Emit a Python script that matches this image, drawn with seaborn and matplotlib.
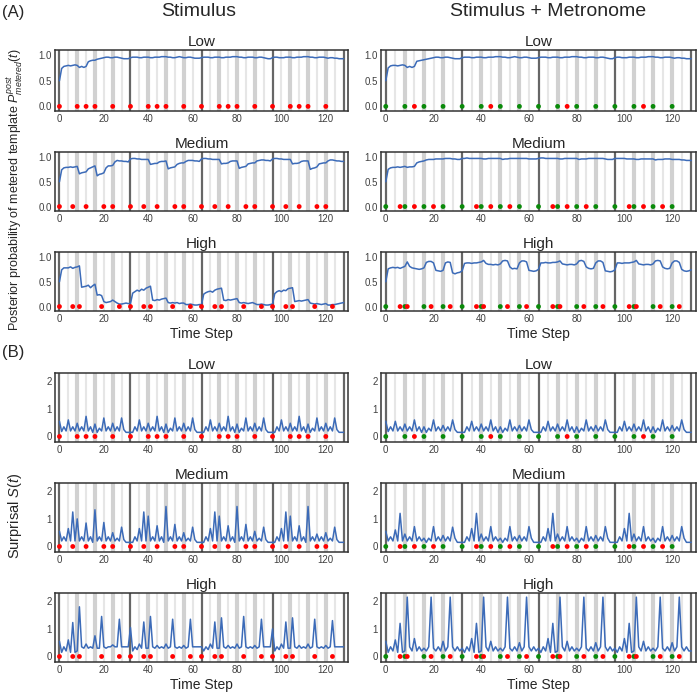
import numpy as np
import matplotlib.pyplot as plt
import seaborn as sns

sns.set_theme(style="white")
plt.rcParams['font.family'] = ['Liberation Sans', 'DejaVu Sans']
plt.rcParams['mathtext.fontset'] = 'custom'
plt.rcParams['mathtext.rm'] = 'Liberation Sans'
plt.rcParams['mathtext.it'] = 'Liberation Sans:italic'

# time axis and event positions
time_step = np.arange(129)
metronome_beats = [0, 8, 16, 24, 32, 40, 48, 56, 64, 72, 80, 88, 96, 104, 112, 120]
onsets_low = [0, 8, 12, 16, 24, 32, 40, 44, 48, 56, 64, 72, 76, 80, 88, 96, 104, 108, 112, 120]
onsets_medium = [0, 6, 12, 20, 24, 32, 38, 44, 52, 56, 64, 70, 76, 84, 88, 96, 102, 108, 116, 120]
onsets_high = [0, 6, 9, 19, 27, 32, 38, 41, 51, 59, 64, 70, 73, 83, 91, 96, 102, 105, 115, 123]

# (A) posterior probability of the metered template
post_stim_low = [
    0.50, 0.74, 0.78, 0.79, 0.80, 0.79, 0.80, 0.81, 0.80, 0.76, 0.78, 0.76, 0.78, 0.87, 0.89, 0.90,
    0.90, 0.92, 0.93, 0.94, 0.95, 0.96, 0.96, 0.95, 0.95, 0.96, 0.96, 0.95, 0.94, 0.93, 0.93, 0.93,
    0.95, 0.96, 0.96, 0.96, 0.95, 0.95, 0.96, 0.96, 0.96, 0.95, 0.95, 0.96, 0.96, 0.96, 0.97, 0.97,
    0.97, 0.96, 0.96, 0.95, 0.95, 0.96, 0.97, 0.96, 0.95, 0.95, 0.96, 0.96, 0.95, 0.94, 0.94, 0.94,
    0.95, 0.96, 0.96, 0.96, 0.95, 0.95, 0.96, 0.96, 0.96, 0.95, 0.95, 0.96, 0.96, 0.96, 0.97, 0.97,
    0.97, 0.96, 0.96, 0.95, 0.95, 0.96, 0.96, 0.96, 0.95, 0.95, 0.96, 0.96, 0.95, 0.94, 0.93, 0.93,
    0.95, 0.96, 0.96, 0.95, 0.95, 0.95, 0.96, 0.96, 0.96, 0.95, 0.95, 0.96, 0.96, 0.96, 0.97, 0.97,
    0.97, 0.96, 0.96, 0.95, 0.95, 0.96, 0.96, 0.96, 0.95, 0.94, 0.95, 0.95, 0.94, 0.94, 0.93, 0.93,
    0.93]
post_stim_medium = [
    0.50, 0.74, 0.78, 0.79, 0.79, 0.80, 0.79, 0.80, 0.81, 0.66, 0.68, 0.69, 0.70, 0.76, 0.78, 0.80,
    0.82, 0.62, 0.65, 0.66, 0.68, 0.78, 0.82, 0.82, 0.83, 0.90, 0.93, 0.92, 0.92, 0.91, 0.91, 0.90,
    0.96, 0.97, 0.97, 0.96, 0.96, 0.95, 0.95, 0.95, 0.95, 0.85, 0.86, 0.87, 0.87, 0.90, 0.91, 0.91,
    0.92, 0.76, 0.78, 0.79, 0.80, 0.85, 0.87, 0.88, 0.88, 0.91, 0.93, 0.93, 0.93, 0.92, 0.92, 0.91,
    0.96, 0.97, 0.97, 0.96, 0.96, 0.95, 0.95, 0.95, 0.95, 0.86, 0.87, 0.87, 0.88, 0.91, 0.92, 0.92,
    0.92, 0.77, 0.79, 0.80, 0.81, 0.86, 0.87, 0.88, 0.88, 0.92, 0.93, 0.94, 0.94, 0.93, 0.93, 0.92,
    0.96, 0.97, 0.97, 0.96, 0.96, 0.95, 0.95, 0.95, 0.95, 0.86, 0.87, 0.87, 0.88, 0.91, 0.92, 0.92,
    0.92, 0.75, 0.77, 0.78, 0.80, 0.86, 0.87, 0.88, 0.88, 0.92, 0.94, 0.94, 0.93, 0.92, 0.92, 0.91,
    0.91]
post_stim_high = [
    0.50, 0.74, 0.78, 0.78, 0.78, 0.80, 0.77, 0.79, 0.80, 0.82, 0.39, 0.40, 0.41, 0.43, 0.38, 0.42,
    0.45, 0.23, 0.24, 0.22, 0.10, 0.08, 0.09, 0.10, 0.13, 0.10, 0.07, 0.05, 0.05, 0.06, 0.07, 0.06,
    0.06, 0.27, 0.30, 0.33, 0.31, 0.35, 0.33, 0.37, 0.39, 0.41, 0.13, 0.12, 0.14, 0.13, 0.15, 0.16,
    0.17, 0.08, 0.07, 0.08, 0.07, 0.08, 0.06, 0.07, 0.07, 0.04, 0.04, 0.05, 0.04, 0.03, 0.03, 0.04,
    0.04, 0.25, 0.28, 0.30, 0.31, 0.29, 0.33, 0.35, 0.36, 0.37, 0.13, 0.12, 0.14, 0.13, 0.14, 0.15,
    0.16, 0.08, 0.07, 0.08, 0.07, 0.06, 0.07, 0.08, 0.06, 0.04, 0.04, 0.05, 0.04, 0.03, 0.03, 0.04,
    0.05, 0.26, 0.30, 0.32, 0.30, 0.33, 0.32, 0.36, 0.37, 0.38, 0.10, 0.11, 0.12, 0.11, 0.12, 0.13,
    0.14, 0.07, 0.06, 0.05, 0.06, 0.05, 0.04, 0.05, 0.06, 0.03, 0.03, 0.04, 0.04, 0.05, 0.06, 0.07,
    0.08]
post_metro_low = [
    0.50, 0.75, 0.79, 0.80, 0.80, 0.79, 0.80, 0.81, 0.80, 0.76, 0.78, 0.76, 0.78, 0.88, 0.89, 0.90,
    0.91, 0.92, 0.93, 0.94, 0.95, 0.96, 0.96, 0.95, 0.95, 0.96, 0.96, 0.95, 0.94, 0.93, 0.93, 0.93,
    0.95, 0.96, 0.96, 0.96, 0.95, 0.95, 0.96, 0.96, 0.96, 0.95, 0.95, 0.96, 0.96, 0.96, 0.97, 0.97,
    0.97, 0.96, 0.96, 0.95, 0.95, 0.96, 0.97, 0.96, 0.95, 0.95, 0.96, 0.96, 0.95, 0.94, 0.94, 0.94,
    0.95, 0.96, 0.96, 0.96, 0.95, 0.95, 0.96, 0.96, 0.96, 0.95, 0.95, 0.96, 0.96, 0.96, 0.97, 0.97,
    0.97, 0.96, 0.96, 0.95, 0.95, 0.96, 0.96, 0.96, 0.95, 0.95, 0.96, 0.96, 0.95, 0.94, 0.93, 0.93,
    0.95, 0.96, 0.96, 0.95, 0.95, 0.95, 0.96, 0.96, 0.96, 0.95, 0.95, 0.96, 0.96, 0.96, 0.97, 0.97,
    0.97, 0.96, 0.96, 0.95, 0.95, 0.96, 0.96, 0.96, 0.95, 0.94, 0.95, 0.95, 0.94, 0.94, 0.93, 0.93,
    0.93]
post_metro_medium = [
    0.50, 0.75, 0.78, 0.79, 0.79, 0.80, 0.79, 0.80, 0.81, 0.79, 0.80, 0.80, 0.81, 0.88, 0.90, 0.91,
    0.92, 0.94, 0.95, 0.95, 0.95, 0.96, 0.96, 0.96, 0.96, 0.97, 0.97, 0.97, 0.96, 0.96, 0.95, 0.95,
    0.97, 0.97, 0.98, 0.97, 0.97, 0.97, 0.97, 0.97, 0.97, 0.96, 0.96, 0.97, 0.97, 0.97, 0.97, 0.97,
    0.97, 0.95, 0.96, 0.96, 0.97, 0.97, 0.97, 0.97, 0.97, 0.97, 0.97, 0.97, 0.96, 0.96, 0.96, 0.96,
    0.97, 0.98, 0.98, 0.97, 0.97, 0.97, 0.97, 0.97, 0.97, 0.96, 0.96, 0.97, 0.97, 0.97, 0.97, 0.97,
    0.97, 0.95, 0.96, 0.96, 0.96, 0.97, 0.97, 0.97, 0.97, 0.97, 0.97, 0.97, 0.96, 0.95, 0.95, 0.95,
    0.97, 0.97, 0.97, 0.97, 0.97, 0.96, 0.96, 0.96, 0.96, 0.95, 0.95, 0.96, 0.96, 0.96, 0.96, 0.96,
    0.96, 0.94, 0.95, 0.95, 0.95, 0.96, 0.96, 0.96, 0.95, 0.95, 0.95, 0.95, 0.94, 0.94, 0.93, 0.93,
    0.93]
post_metro_high = [
    0.50, 0.76, 0.78, 0.79, 0.78, 0.79, 0.77, 0.79, 0.81, 0.90, 0.81, 0.78, 0.77, 0.76, 0.75, 0.76,
    0.78, 0.89, 0.91, 0.91, 0.88, 0.73, 0.72, 0.71, 0.73, 0.88, 0.90, 0.89, 0.68, 0.66, 0.68, 0.69,
    0.72, 0.87, 0.88, 0.88, 0.87, 0.88, 0.88, 0.89, 0.90, 0.93, 0.87, 0.85, 0.85, 0.84, 0.85, 0.84,
    0.86, 0.92, 0.93, 0.92, 0.80, 0.76, 0.77, 0.76, 0.88, 0.92, 0.92, 0.90, 0.73, 0.72, 0.71, 0.72,
    0.75, 0.88, 0.88, 0.89, 0.88, 0.88, 0.89, 0.89, 0.90, 0.92, 0.86, 0.85, 0.84, 0.85, 0.85, 0.84,
    0.86, 0.92, 0.93, 0.91, 0.80, 0.77, 0.76, 0.77, 0.88, 0.92, 0.92, 0.89, 0.72, 0.71, 0.70, 0.71,
    0.74, 0.88, 0.88, 0.87, 0.88, 0.88, 0.88, 0.89, 0.90, 0.93, 0.86, 0.85, 0.84, 0.85, 0.85, 0.84,
    0.86, 0.92, 0.93, 0.92, 0.80, 0.77, 0.76, 0.77, 0.88, 0.92, 0.92, 0.89, 0.75, 0.72, 0.71, 0.72,
    0.74]

# (B) surprisal
surp_stim_low = [
    0.55, 0.18, 0.35, 0.20, 0.60, 0.20, 0.35, 0.20, 0.48, 0.20, 0.35, 0.20, 0.73, 0.20, 0.35, 0.15,
    0.45, 0.15, 0.30, 0.20, 0.67, 0.20, 0.35, 0.20, 0.48, 0.20, 0.35, 0.20, 0.67, 0.25, 0.15, 0.15,
    0.15, 0.15, 0.35, 0.20, 0.60, 0.20, 0.35, 0.20, 0.48, 0.20, 0.35, 0.20, 0.73, 0.20, 0.35, 0.15,
    0.45, 0.15, 0.30, 0.20, 0.67, 0.20, 0.35, 0.20, 0.48, 0.20, 0.35, 0.20, 0.67, 0.25, 0.15, 0.15,
    0.15, 0.15, 0.35, 0.20, 0.60, 0.20, 0.35, 0.20, 0.48, 0.20, 0.35, 0.20, 0.73, 0.20, 0.35, 0.15,
    0.45, 0.15, 0.30, 0.20, 0.67, 0.20, 0.35, 0.20, 0.48, 0.20, 0.35, 0.20, 0.67, 0.25, 0.15, 0.15,
    0.15, 0.15, 0.35, 0.20, 0.60, 0.20, 0.35, 0.20, 0.48, 0.20, 0.35, 0.20, 0.73, 0.20, 0.35, 0.15,
    0.45, 0.15, 0.30, 0.20, 0.67, 0.20, 0.35, 0.20, 0.48, 0.20, 0.35, 0.20, 0.67, 0.25, 0.15, 0.15,
    0.15]
surp_stim_medium = [
    0.55, 0.20, 0.35, 0.20, 0.65, 0.20, 1.25, 0.20, 1.00, 0.20, 0.35, 0.20, 0.85, 0.20, 0.35, 0.15,
    1.33, 0.20, 0.35, 0.20, 0.87, 0.20, 0.35, 0.20, 0.50, 0.20, 0.30, 0.20, 0.70, 0.25, 0.15, 0.15,
    0.15, 0.15, 0.35, 0.20, 0.65, 0.20, 1.25, 0.20, 1.10, 0.20, 0.35, 0.20, 0.75, 0.20, 0.35, 0.15,
    1.45, 0.20, 0.35, 0.20, 0.80, 0.20, 0.35, 0.20, 0.50, 0.20, 0.30, 0.20, 0.70, 0.25, 0.15, 0.15,
    0.15, 0.15, 0.35, 0.20, 0.65, 0.20, 1.25, 0.20, 1.10, 0.20, 0.35, 0.20, 0.75, 0.20, 0.35, 0.15,
    1.45, 0.20, 0.35, 0.20, 0.80, 0.20, 0.35, 0.20, 0.55, 0.20, 0.30, 0.20, 0.70, 0.25, 0.15, 0.15,
    0.15, 0.15, 0.35, 0.20, 0.65, 0.20, 1.25, 0.20, 1.10, 0.20, 0.35, 0.20, 0.75, 0.20, 0.35, 0.15,
    1.45, 0.20, 0.35, 0.20, 0.45, 0.20, 0.35, 0.20, 0.50, 0.20, 0.30, 0.20, 0.70, 0.25, 0.15, 0.15,
    0.15]
surp_stim_high = [
    0.55, 0.15, 0.35, 0.20, 0.60, 0.15, 1.23, 0.15, 0.20, 1.80, 0.35, 0.30, 0.45, 0.30, 0.35, 0.30,
    0.75, 0.30, 0.30, 1.45, 0.35, 0.30, 0.35, 0.35, 0.42, 0.35, 0.35, 1.35, 0.35, 0.35, 0.35, 0.35,
    1.05, 0.20, 0.35, 0.25, 0.45, 0.30, 1.25, 0.30, 0.30, 1.45, 0.35, 0.30, 0.40, 0.30, 0.35, 0.30,
    0.45, 0.30, 0.35, 1.35, 0.35, 0.30, 0.35, 0.30, 0.40, 0.30, 0.35, 1.35, 0.35, 0.35, 0.35, 0.35,
    0.35, 0.20, 0.35, 0.25, 0.45, 0.30, 1.25, 0.30, 0.30, 1.40, 0.35, 0.30, 0.40, 0.30, 0.35, 0.30,
    0.45, 0.30, 0.35, 1.45, 0.35, 0.30, 0.35, 0.30, 0.40, 0.30, 0.35, 1.35, 0.35, 0.35, 0.35, 0.35,
    1.00, 0.20, 0.35, 0.25, 0.45, 0.30, 1.25, 0.30, 0.30, 1.40, 0.35, 0.30, 0.40, 0.30, 0.35, 0.30,
    0.45, 0.30, 0.35, 1.35, 0.35, 0.30, 0.35, 0.30, 0.40, 0.30, 0.35, 1.30, 0.35, 0.35, 0.35, 0.35,
    0.35]
surp_metro_low = [
    0.55, 0.18, 0.35, 0.20, 0.55, 0.20, 0.35, 0.20, 0.45, 0.20, 0.35, 0.20, 0.60, 0.20, 0.35, 0.15,
    0.35, 0.15, 0.30, 0.20, 0.60, 0.20, 0.35, 0.20, 0.40, 0.20, 0.35, 0.20, 0.60, 0.25, 0.15, 0.15,
    0.15, 0.15, 0.35, 0.20, 0.55, 0.20, 0.35, 0.20, 0.45, 0.20, 0.35, 0.20, 0.60, 0.20, 0.35, 0.15,
    0.35, 0.15, 0.30, 0.20, 0.60, 0.20, 0.35, 0.20, 0.40, 0.20, 0.35, 0.20, 0.60, 0.25, 0.15, 0.15,
    0.15, 0.15, 0.35, 0.20, 0.55, 0.20, 0.35, 0.20, 0.45, 0.20, 0.35, 0.20, 0.60, 0.20, 0.35, 0.15,
    0.35, 0.15, 0.30, 0.20, 0.60, 0.20, 0.35, 0.20, 0.40, 0.20, 0.35, 0.20, 0.60, 0.25, 0.15, 0.15,
    0.15, 0.15, 0.35, 0.20, 0.55, 0.20, 0.35, 0.20, 0.45, 0.20, 0.35, 0.20, 0.60, 0.20, 0.35, 0.15,
    0.35, 0.15, 0.30, 0.20, 0.60, 0.20, 0.35, 0.20, 0.40, 0.20, 0.35, 0.20, 0.60, 0.25, 0.15, 0.15,
    0.15]
surp_metro_medium = [
    0.55, 0.20, 0.35, 0.20, 0.60, 0.20, 1.20, 0.20, 0.45, 0.20, 0.35, 0.20, 0.72, 0.20, 0.35, 0.20,
    0.30, 0.15, 0.30, 0.20, 0.72, 0.20, 0.35, 0.20, 0.40, 0.20, 0.35, 0.20, 0.70, 0.30, 0.15, 0.15,
    0.15, 0.15, 0.35, 0.20, 0.65, 0.20, 1.20, 0.20, 0.45, 0.20, 0.35, 0.20, 0.72, 0.20, 0.35, 0.20,
    0.30, 0.15, 0.30, 0.20, 0.72, 0.20, 0.35, 0.20, 0.40, 0.20, 0.35, 0.20, 0.72, 0.30, 0.15, 0.15,
    0.15, 0.15, 0.35, 0.20, 0.65, 0.20, 1.20, 0.20, 0.45, 0.20, 0.35, 0.20, 0.72, 0.20, 0.35, 0.20,
    0.30, 0.15, 0.30, 0.20, 0.72, 0.20, 0.35, 0.20, 0.40, 0.20, 0.35, 0.20, 0.72, 0.30, 0.15, 0.15,
    0.15, 0.15, 0.35, 0.20, 0.65, 0.20, 1.20, 0.20, 0.45, 0.20, 0.35, 0.20, 0.72, 0.20, 0.35, 0.20,
    0.30, 0.15, 0.30, 0.20, 0.72, 0.20, 0.35, 0.20, 0.40, 0.20, 0.35, 0.20, 0.72, 0.30, 0.15, 0.15,
    0.15]
surp_metro_high = [
    0.55, 0.15, 0.35, 0.20, 0.60, 0.15, 1.20, 0.15, 0.20, 2.15, 0.35, 0.20, 0.65, 0.20, 0.35, 0.20,
    0.30, 0.20, 0.35, 2.15, 0.30, 0.20, 0.35, 0.20, 0.55, 0.20, 0.35, 2.15, 0.35, 0.20, 0.35, 0.20,
    0.30, 0.15, 0.35, 0.20, 0.65, 0.15, 1.20, 0.15, 0.20, 2.15, 0.35, 0.20, 0.55, 0.20, 0.35, 0.20,
    0.30, 0.20, 0.35, 2.15, 0.30, 0.20, 0.35, 0.20, 0.50, 0.20, 0.35, 2.15, 0.35, 0.20, 0.35, 0.20,
    0.30, 0.15, 0.35, 0.20, 0.65, 0.15, 1.20, 0.15, 0.20, 2.15, 0.35, 0.20, 0.55, 0.20, 0.35, 0.20,
    0.30, 0.20, 0.35, 2.15, 0.30, 0.20, 0.35, 0.20, 0.50, 0.20, 0.35, 2.15, 0.35, 0.20, 0.35, 0.20,
    0.30, 0.15, 0.35, 0.20, 0.65, 0.15, 1.20, 0.15, 0.20, 2.15, 0.35, 0.20, 0.55, 0.20, 0.35, 0.20,
    0.30, 0.20, 0.35, 2.15, 0.30, 0.20, 0.35, 0.20, 0.50, 0.20, 0.35, 2.15, 0.35, 0.20, 0.35, 0.20,
    0.20]

levels = ['Low', 'Medium', 'High']
x_ticks = [0, 20, 40, 60, 80, 100, 120]

LINE = '#3c6bb8'
W, H = 700, 692


def px_axes(fig, left, right, top, bottom):
    return fig.add_axes([left / W, 1 - bottom / H, (right - left) / W, (bottom - top) / H])


def draw_panel(ax, values, onsets, use_metronome, ylim, yticks, yticklabels, title, xlabel):
    # bar lines and beat bands
    for t in range(0, 129, 4):
        if t % 32 == 0:
            ax.axvline(t, color='0.4', lw=1.6, zorder=1)
        elif t % 8 == 0:
            ax.axvline(t, color='0.82', lw=3.0, zorder=1)
        else:
            ax.axvline(t, color='0.9', lw=1.5, zorder=1)
    sns.lineplot(x=time_step, y=values, ax=ax, color=LINE, lw=1.1, zorder=3)
    if use_metronome:
        red = [t for t in onsets if t not in metronome_beats]
        sns.scatterplot(x=metronome_beats, y=[0] * len(metronome_beats), ax=ax,
                        color='#0a8a0a', s=12, edgecolor='none', zorder=4)
    else:
        red = onsets
    sns.scatterplot(x=red, y=[0] * len(red), ax=ax, color='#ff0000', s=12,
                    edgecolor='none', zorder=5)
    ax.set_xlim(-2, 130)
    ax.set_ylim(*ylim)
    ax.set_xticks(x_ticks)
    ax.set_yticks(yticks)
    ax.set_yticklabels(yticklabels)
    ax.tick_params(labelsize=7, colors='0.25', length=0, pad=2.5)
    ax.set_title(title, fontsize=11, pad=3)
    ax.set_xlabel(xlabel, fontsize=10, labelpad=2)
    for sp in ax.spines.values():
        sp.set_color('0.2')
        sp.set_linewidth(1.1)


fig = plt.figure(figsize=(7, 6.92), dpi=100)

cols = [(55, 348), (381, 696)]
rows_a = [(50, 111), (152, 211), (252, 311)]
rows_b = [(373, 442), (483, 552), (593, 662)]

post = [[post_stim_low, post_stim_medium, post_stim_high],
        [post_metro_low, post_metro_medium, post_metro_high]]
surp = [[surp_stim_low, surp_stim_medium, surp_stim_high],
        [surp_metro_low, surp_metro_medium, surp_metro_high]]
onsets_by_level = [onsets_low, onsets_medium, onsets_high]

for c, (l, r) in enumerate(cols):
    for i, lev in enumerate(levels):
        xl = 'Time Step' if i == 2 else ''
        ax = px_axes(fig, l, r, *rows_a[i])
        draw_panel(ax, post[c][i], onsets_by_level[i], c == 1, (-0.09, 1.1),
                   [0, 0.5, 1.0], ['0.0', '0.5', '1.0'], lev, xl)
        ax = px_axes(fig, l, r, *rows_b[i])
        draw_panel(ax, surp[c][i], onsets_by_level[i], c == 1, (-0.2, 2.3),
                   [0, 1, 2], ['0', '1', '2'], lev, xl)

fig.text(2 / W, 1 - 12 / H, '(A)', fontsize=12, va='center', ha='left')
fig.text(2 / W, 1 - 352 / H, '(B)', fontsize=12, va='center', ha='left')
fig.text(199 / W, 1 - 12 / H, 'Stimulus', fontsize=14, va='center', ha='center')
fig.text(548 / W, 1 - 12 / H, 'Stimulus + Metronome', fontsize=14, va='center', ha='center')
fig.text(15 / W, 1 - 190 / H, r'Posterior probability of metered template $P^{post}_{metered}(t)$',
         rotation=90, fontsize=9, va='center', ha='center')
fig.text(15 / W, 1 - 516 / H, r'Surprisal $S(t)$', rotation=90, fontsize=10.5,
         va='center', ha='center')

fig.savefig('out.png', dpi=100)
